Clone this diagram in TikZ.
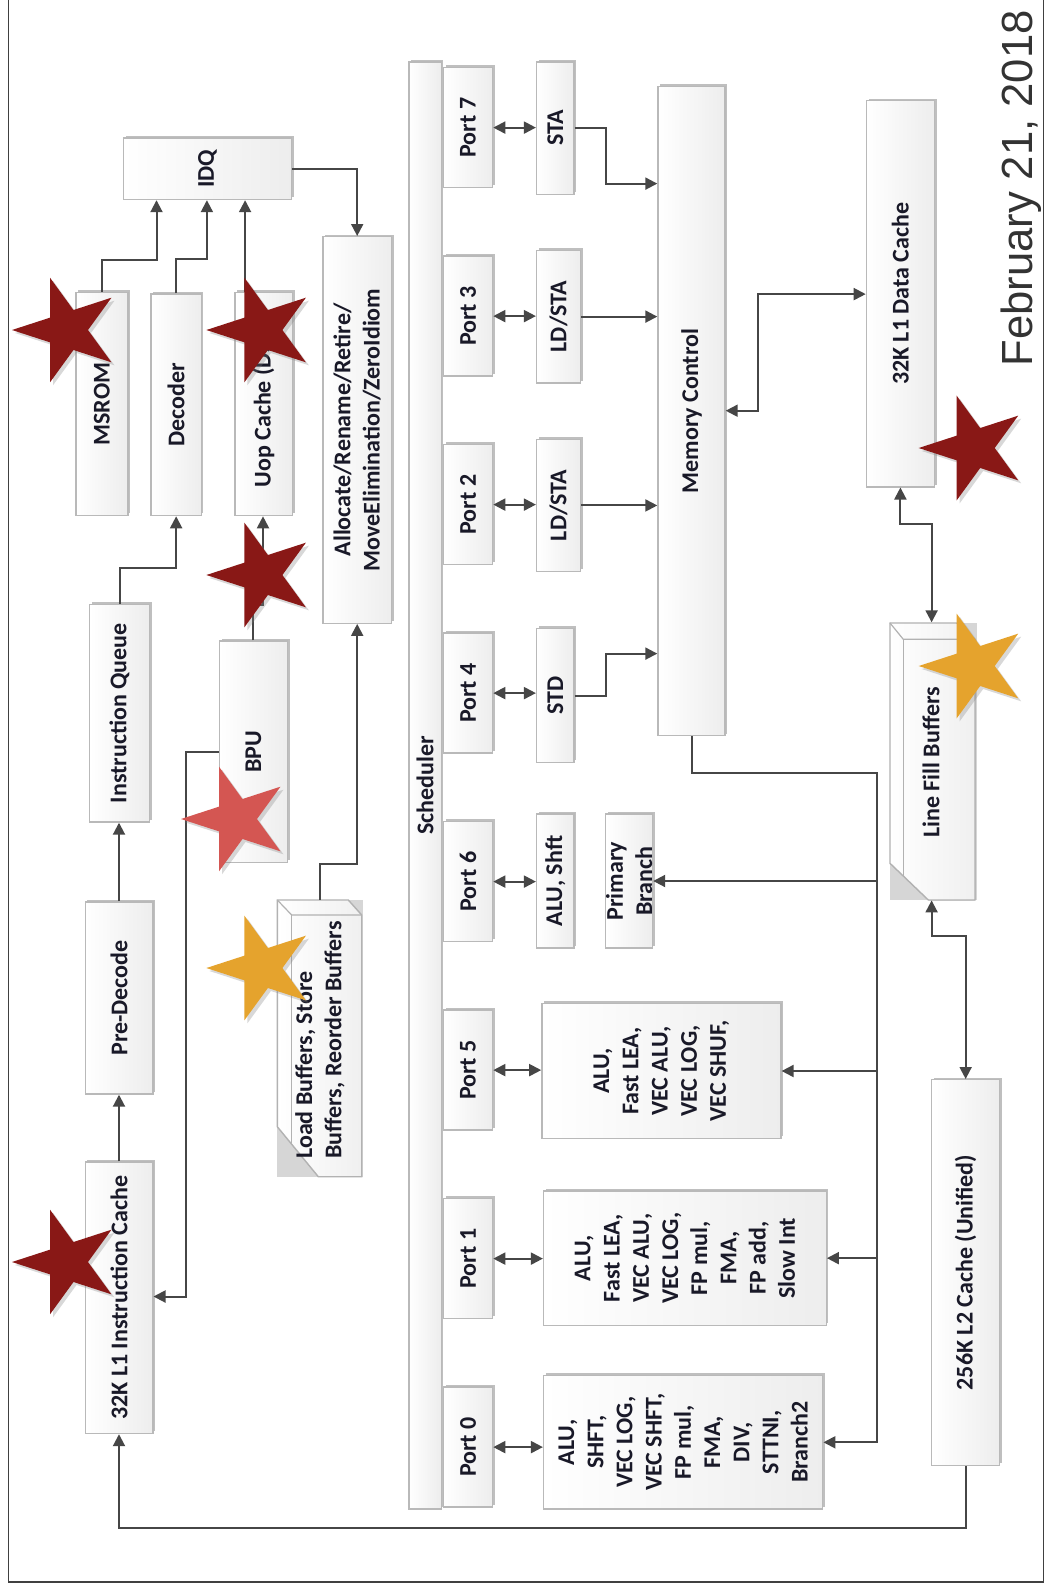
\documentclass[tikz,border=0pt]{standalone}
\usepackage{fontspec}
\setmainfont{Carlito}
\newfontfamily\datefont{Liberation Sans}
\usetikzlibrary{arrows.meta,shapes.geometric,shadows,fit,calc}
\definecolor{sred}{RGB}{137,24,22}
\definecolor{ssalmon}{RGB}{212,86,82}
\definecolor{sgold}{RGB}{229,163,45}
\definecolor{conc}{RGB}{70,70,70}
\definecolor{txt}{RGB}{25,25,40}
\tikzset{
  blk/.style={draw=gray!55, line width=0.7pt, left color=white, right color=gray!14, inner sep=0pt,
    general shadow={fill=gray!50, shadow xshift=1.1pt, shadow yshift=1.1pt}},
  lbl/.style={rotate=90, inner sep=0pt, align=center, text=txt, font=\bfseries\fontsize{12}{14.6}\selectfont},
  con/.style={draw=conc, line width=1pt, -{Triangle[length=6pt,width=6pt]}},
  dcon/.style={draw=conc, line width=1pt, {Triangle[length=6pt,width=6pt]}-{Triangle[length=6pt,width=6pt]}},
  starr/.style={star, star points=5, star point ratio=2.618, minimum size=55pt, inner sep=0pt,
    shape border rotate=90, draw=none, drop shadow={opacity=0.3, shadow xshift=1.5pt, shadow yshift=-1.5pt}},
}
\newcommand\bx[3]{\node[blk, fit={#2 #3}] (#1) {};}
\begin{document}
\begin{tikzpicture}[x=0.5pt, y=-0.5pt]
\useasboundingbox (0,0) rectangle (1047,1591);
\fill[white] (0,0) rectangle (1047,1591);
% frame
\draw[black!75, line width=0.9pt] (8.5,0) -- (8.5,1581.7) -- (1043.5,1581.7) -- (1043.5,0);

% boxes
\bx{idq}{(123.4,137.9)}{(291.4,199.5)}
\bx{msrom}{(76,292.4)}{(127.8,515.6)}
\bx{dec}{(151.1,294.1)}{(201.2,515.6)}
\bx{uop}{(235,292.4)}{(292.4,515.6)}
\bx{alloc}{(322.9,236.7)}{(391.5,623.2)}
\bx{iq}{(89.6,604.3)}{(149.4,822)}
\bx{pre}{(85.2,901.8)}{(152.8,1094)}
\bx{l1i}{(85.2,1162)}{(152.8,1433.5)}
\bx{bpu}{(219.7,641)}{(287.4,862.5)}
\bx{sched}{(409,61.9)}{(441.2,1509)}
\foreach \n/\c in {7/127.6, 3/316.1, 2/504.6, 4/693.1, 6/881.6, 5/1070.1, 1/1258.6, 0/1447.1} {
  \node[blk, fit={(443.5,\c-60) (492.6,\c+60)}] (p\n) {};
}
\bx{sta}{(536.6,61.9)}{(574,194.4)}
\bx{ldsta3}{(536.6,250.2)}{(580.3,383)}
\bx{ldsta2}{(536.6,439.5)}{(580.3,571.4)}
\bx{std}{(536.6,628.6)}{(574,762.5)}
\bx{alushft}{(536.6,814)}{(574,948)}
\bx{pbr}{(605.7,814)}{(652.5,948)}
\bx{u5}{(541.9,1003.6)}{(780.9,1138.4)}
\bx{u1}{(543.6,1191)}{(826.2,1325.3)}
\bx{u0}{(543.6,1375.6)}{(822.7,1509)}
\bx{mc}{(658,86.2)}{(725,735.7)}
\bx{l1d}{(866.4,100.7)}{(934.4,486.8)}
\bx{l2}{(931.6,1079.7)}{(999.7,1465.2)}

% 3D box: load buffers
\node[inner sep=0pt, fit={(277.3,900) (363.3,1176.7)}] (lb) {};
\fill[gray!32] (277.3,900) rectangle (363.3,1176.7);
\filldraw[draw=gray!60, line width=0.7pt, left color=white, right color=gray!12]
  (277.3,900) -- (348.3,900) -- (361.7,915) -- (361.7,1176.7) -- (318.3,1176.7) -- (277.3,1126.7) -- cycle;
\draw[gray!60, line width=0.6pt] (277.3,900) -- (291.7,915) -- (361.7,915);
\draw[gray!60, line width=0.6pt] (291.7,915) -- (291.7,1144.3);
% 3D box: line fill buffers
\node[inner sep=0pt, fit={(890,622.7) (976.7,900)}] (lfb) {};
\fill[gray!32] (890,622.7) rectangle (976.7,900);
\filldraw[draw=gray!60, line width=0.7pt, left color=white, right color=gray!12]
  (890,623) -- (956.7,623) -- (975,639.3) -- (975,900) -- (928.3,900) -- (890,863.3) -- cycle;
\draw[gray!60, line width=0.6pt] (890,623) -- (903.3,639.3) -- (975,639.3);
\draw[gray!60, line width=0.6pt] (903.3,639.3) -- (903.3,876);

% connectors
\draw[con] (msrom.north) |- (156.5,260.3) -- (156.5,0 |- idq.south);
\draw[con] (dec.north) |- (206.9,258.6) -- (206.9,0 |- idq.south);
\draw[con] (245.1,0 |- uop.north) -- (245.1,0 |- idq.south);
\draw[con] (idq.east) -| (alloc.north);
\draw[con] (iq.north) |- (dec.south |- 0,567.9) -- (dec.south);
\draw[con] (pre.north) -- (pre.north |- iq.south);
\draw[con] (l1i.north) -- (l1i.north |- pre.south);
\draw[con] (252.9,0 |- bpu.north) |- (263,605.4) -- (263,0 |- uop.south);
\draw[con] (bpu.west) -| (185.9,1296.5) -- (l1i.east |- 0,1296.5);
\draw[con] (lb.north) |- (alloc.south |- 0,864.3) -- (alloc.south);
\foreach \p/\u in {7/sta,3/ldsta3,2/ldsta2,4/std,6/alushft,5/u5,1/u1,0/u0}
  \draw[dcon] (p\p.east) -- (p\p.east -| \u.west);
\draw[con] (sta.east) -| (606.4,183.6) -- (mc.west |- 0,183.6);
\draw[con] (ldsta3.east) -- (ldsta3.east -| mc.west);
\draw[con] (ldsta2.east) -- (ldsta2.east -| mc.west);
\draw[con] (std.east) -| (606.4,653.6) -- (mc.west |- 0,653.6);
\draw[dcon] (mc.east |- 0,410.7) -| (758.2,294.1) -- (l1d.west |- 0,294.1);
\draw[dcon] (l1d.south) |- (931.6,524.3) -- (931.6,0 |- lfb.north);
\draw[dcon] (931.6,0 |- lfb.south) |- (l2.north |- 0,936.4) -- (l2.north);
\draw[con] (l2.south) |- (l1i.south |- 0,1528.4) -- (l1i.south);
\coordinate (bus) at (876.8,773.2);
\draw[con] (mc.south) |- (bus) -- (bus |- u0.east) -- (u0.east);
\draw[con] (bus |- pbr.east) -- (pbr.east);
\draw[con] (bus |- u5.east) -- (u5.east);
\draw[con] (bus |- u1.east) -- (u1.east);

% labels
\node[lbl] (idq-t) at (idq.center) {IDQ};
\node[lbl] (msrom-t) at (msrom.center) {MSROM};
\node[lbl] (dec-t) at (dec.center) {Decoder};
\node[lbl] (uop-t) at (uop.center) {Uop Cache (DSB)};
\node[lbl] (alloc-t) at (alloc.center) {Allocate/Rename/Retire/\\MoveElimination/ZeroIdiom};
\node[lbl] (iq-t) at (iq.center) {Instruction Queue};
\node[lbl] (pre-t) at (pre.center) {Pre-Decode};
\node[lbl] (l1i-t) at (l1i.center) {32K L1 Instruction Cache};
\node[lbl] (bpu-t) at (bpu.center) {BPU};
\node[lbl, align=left] (lb-t) at (320,1040) {Load Buffers, Store\\Buffers, Reorder Buffers};
\node[lbl] (sched-t) at (sched.center) {Scheduler};
\foreach \n in {0,...,7} \node[lbl] (p\n-t) at (p\n.center) {Port \n};
\node[lbl] (sta-t) at (sta.center) {STA};
\node[lbl] (ldsta3-t) at (ldsta3.center) {LD/STA};
\node[lbl] (ldsta2-t) at (ldsta2.center) {LD/STA};
\node[lbl] (std-t) at (std.center) {STD};
\node[lbl] (alushft-t) at (alushft.center) {ALU, Shft};
\node[lbl] (pbr-t) at (pbr.center) {Primary\\Branch};
\node[lbl] (u5-t) at (u5.center) {ALU,\\Fast LEA,\\VEC ALU,\\VEC LOG,\\VEC SHUF,};
\node[lbl] (u1-t) at (u1.center) {ALU,\\Fast LEA,\\VEC ALU,\\VEC LOG,\\FP mul,\\FMA,\\FP add,\\Slow Int};
\node[lbl] (u0-t) at (u0.center) {ALU,\\SHFT,\\VEC LOG,\\VEC SHFT,\\FP mul,\\FMA,\\DIV,\\STTNI,\\Branch2};
\node[lbl] (mc-t) at (mc.center) {Memory Control};
\node[lbl] (l1d-t) at (l1d.center) {32K L1 Data Cache};
\node[lbl] (lfb-t) at (931,762.5) {Line Fill Buffers};
\node[lbl] (l2-t) at (l2.center) {256K L2 Cache (Unified)};
\node[rotate=90, anchor=base, inner sep=0pt, text=black!80, font=\datefont\fontsize{21.8}{26}\selectfont] (date) at (1032,188.4) {February 21, 2018};

% stars
\node[starr, fill=sred] (st1) at (67,330) {};
\node[starr, fill=sred] (st2) at (261.4,330) {};
\node[starr, fill=sred] (st3) at (261.4,575) {};
\node[starr, fill=ssalmon] (st4) at (236,819) {};
\node[starr, fill=sred] (st5) at (67,1262) {};
\node[starr, fill=sgold] (st6) at (261.4,968) {};
\node[starr, fill=sred] (st7) at (973.7,448) {};
\node[starr, fill=sgold] (st8) at (973.7,666) {};
\end{tikzpicture}
\end{document}
